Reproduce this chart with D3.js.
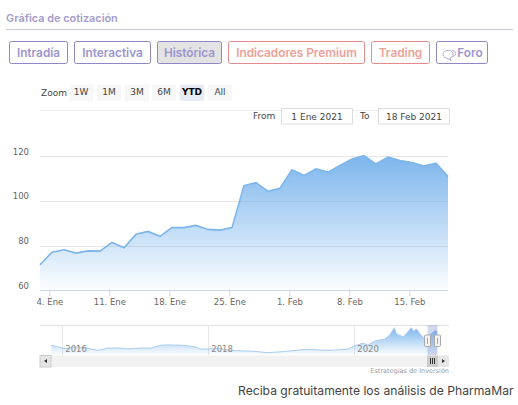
<!DOCTYPE html>
<html lang="es">
    <head>
        <meta charset="utf-8">
        <title>Gráfica de cotización</title>
        <script src="https://cdn.jsdelivr.net/npm/d3@7/dist/d3.min.js"></script>
        <style type="text/css">
            html, body { margin: 0; padding: 0; background: #fff; overflow: hidden; }
            svg { display: block; }
            text { font-family: "DejaVu Sans", sans-serif; }
            .tab { font-family: Inter, sans-serif; font-weight: 600; font-size: 11.8px; }
            .axis text { font-size: 8.5px; fill: #666; }
            .axis path { display: none; }
            .small { font-size: 9px; fill: #444; }
        </style>
    </head>
    <body>
        <script type="text/javascript">

            var w = 518;
            var h = 405;

            // daily closes, 35 trading sessions up to 18 Feb 2021
            var closes = [71.4, 77.0, 78.1, 76.6, 77.6, 77.5, 81.4, 79.0, 85.0, 86.3, 84.1, 88.0,
                88.0, 89.0, 87.2, 86.9, 88.0, 106.8, 108.1, 104.2, 105.6, 113.8, 111.3, 114.3,
                112.8, 115.8, 118.7, 120.2, 116.4, 119.5, 118.0, 117.1, 115.5, 116.8, 110.8];

            var yTicks = [60, 80, 100, 120];
            var xTickLabels = ["4. Ene", "11. Ene", "18. Ene", "25. Ene", "1. Feb", "8. Feb", "15. Feb"];
            var xTickSessions = [0.78, 5.78, 10.78, 15.78, 20.78, 25.78, 30.78];

            // navigator series, whole history
            var navYears = [2015.85, 2015.92, 2016.04, 2016.15, 2016.31, 2016.38, 2016.49, 2016.63, 2016.79,
                2016.90, 2017.06, 2017.22, 2017.34, 2017.45, 2017.68, 2017.84, 2017.88, 2018.02, 2018.16,
                2018.34, 2018.61, 2018.82, 2019.02, 2019.35, 2019.62, 2019.90, 2020.01, 2020.12, 2020.19,
                2020.28, 2020.42, 2020.49, 2020.55, 2020.57, 2020.60, 2020.67, 2020.74, 2020.78, 2020.81,
                2020.85, 2020.90, 2020.97, 2021.04, 2021.11, 2021.135];
            var navCloses = [46, 41, 30, 37, 37, 29, 22, 33, 33, 29, 33, 33, 46, 48, 46, 37, 29, 29, 30,
                21, 18, 11, 16, 27, 22, 27, 44, 56, 48, 66, 76, 97, 130, 105, 97, 86, 113, 130, 113,
                124, 101, 73, 97, 118, 110];
            var navTicks = [2016, 2018, 2020];

            var tabLabels = ["Intradía", "Interactiva", "Histórica", "Indicadores Premium", "Trading", "Foro"];
            var zoomLabels = ["1W", "1M", "3M", "6M", "YTD", "All"];
            var footerText = "Reciba gratuitamente los análisis de PharmaMar";

            var svg = d3.select("body").append("svg")
                .attr("width", w)
                .attr("height", h);

            var defs = svg.append("defs");
            var grad = defs.append("linearGradient")
                .attr("id", "areaFill")
                .attr("x1", 0).attr("y1", 0).attr("x2", 0).attr("y2", 1);
            grad.append("stop").attr("offset", 0).attr("stop-color", "#7cb5ec").attr("stop-opacity", 1);
            grad.append("stop").attr("offset", 1).attr("stop-color", "#7cb5ec").attr("stop-opacity", 0.02);

            // header
            svg.append("text").attr("class", "tab")
                .attr("x", 6).attr("y", 22)
                .style("font-size", "10.9px")
                .attr("fill", "#a49cce")
                .text("Gráfica de cotización");
            svg.append("line")
                .attr("x1", 6).attr("x2", 513).attr("y1", 29.5).attr("y2", 29.5)
                .attr("stroke", "#cbc7de");

            // tab buttons
            var tabLeft = [9.5, 74.5, 157.5, 228.5, 371.5, 436.5];
            var tabRight = [67.5, 150.5, 221.5, 364.5, 429.5, 487.5];
            tabLabels.forEach(function(label, i) {
                var red = label == "Indicadores Premium" || label == "Trading";
                svg.append("rect")
                    .attr("x", tabLeft[i]).attr("y", 41.5)
                    .attr("width", tabRight[i] - tabLeft[i]).attr("height", 22)
                    .attr("rx", 2)
                    .attr("fill", label == "Histórica" ? "#e3e3e3" : "#fff")
                    .attr("stroke", red ? "#e48b8b" : "#8f87c6");
                var cx = (tabLeft[i] + tabRight[i]) / 2 + (label == "Foro" ? 8 : 0);
                svg.append("text").attr("class", "tab")
                    .attr("x", cx).attr("y", 57)
                    .attr("text-anchor", "middle")
                    .attr("fill", red ? "#ee9f98" : "#9c95cf")
                    .text(label);
            });
            // speech bubbles on Foro
            svg.append("path")
                .attr("d", "M445 57.5 a5 4 0 1 1 5 0.5 l1 2.5 l-3 -2 a5.5 4.5 0 0 1 -3 -1 M452.5 50.5 a3 3 0 0 1 0 6")
                .attr("fill", "none")
                .attr("stroke", "#a9a4d2")
                .attr("stroke-width", 0.9);

            // range selector
            svg.append("text").attr("class", "small").attr("x", 41).attr("y", 96).text("Zoom");
            var zoomLeft = [69, 97, 125, 152, 180, 208];
            zoomLabels.forEach(function(label, i) {
                var on = label == "YTD";
                svg.append("rect")
                    .attr("x", zoomLeft[i]).attr("y", 84.5)
                    .attr("width", 24).attr("height", 16.5)
                    .attr("rx", 1)
                    .attr("fill", on ? "#e6ebf5" : "#f7f7f7");
                svg.append("text").attr("class", "small")
                    .attr("x", zoomLeft[i] + 12).attr("y", 95)
                    .attr("text-anchor", "middle")
                    .style("font-weight", on ? "bold" : "normal")
                    .style("fill", on ? "#000" : "#444")
                    .text(label);
            });
            svg.append("line")
                .attr("x1", 40).attr("x2", 448).attr("y1", 110.5).attr("y2", 110.5)
                .attr("stroke", "#eee");

            var fromBox = [[281, "1 Ene 2021"], [378, "18 Feb 2021"]];
            fromBox.forEach(function(d) {
                svg.append("rect")
                    .attr("x", d[0] + 0.5).attr("y", 108.5)
                    .attr("width", 71).attr("height", 15.5)
                    .attr("fill", "#fff")
                    .attr("stroke", "#ddd");
                svg.append("text").attr("class", "small")
                    .attr("x", d[0] + 36).attr("y", 120)
                    .attr("text-anchor", "middle")
                    .text(d[1]);
            });
            svg.append("text").attr("class", "small").attr("x", 253).attr("y", 119).text("From");
            svg.append("text").attr("class", "small").attr("x", 360).attr("y", 119).text("To");

            // main chart
            var xScale = d3.scaleLinear().domain([0, closes.length - 1]).range([40, 448]);
            var yScale = d3.scaleLinear().domain([60, 120]).range([290.3, 156]);

            var yAxis = d3.axisLeft(yScale)
                .tickValues(yTicks)
                .tickSize(0)
                .tickPadding(0);
            var yG = svg.append("g")
                .attr("class", "axis")
                .attr("transform", "translate(29,0)")
                .call(yAxis);
            yG.selectAll("text").attr("dy", "-2px");

            svg.selectAll("line.grid")
                .data(yTicks.slice(1))
                .enter()
                .append("line")
                .attr("class", "grid")
                .attr("x1", 40).attr("x2", 448)
                .attr("y1", function(d) { return Math.round(yScale(d)) + 0.5; })
                .attr("y2", function(d) { return Math.round(yScale(d)) + 0.5; })
                .attr("stroke", "#e6e6e6");

            var area = d3.area()
                .x(function(d, i) { return xScale(i); })
                .y0(yScale(60))
                .y1(function(d) { return yScale(d); });
            var line = d3.line()
                .x(function(d, i) { return xScale(i); })
                .y(function(d) { return yScale(d); });

            svg.append("path").datum(closes)
                .attr("d", area)
                .attr("fill", "url(#areaFill)");
            svg.append("path").datum(closes)
                .attr("d", line)
                .attr("fill", "none")
                .attr("stroke", "#7cb5ec")
                .attr("stroke-width", 1.6);

            svg.append("line")
                .attr("x1", 40).attr("x2", 448).attr("y1", 290.5).attr("y2", 290.5)
                .attr("stroke", "#ccd6eb");

            var xAxis = d3.axisBottom(xScale)
                .tickValues(xTickSessions)
                .tickFormat(function(d, i) { return xTickLabels[i]; })
                .tickSize(6)
                .tickPadding(3);
            var xG = svg.append("g")
                .attr("class", "axis")
                .attr("transform", "translate(0,290)")
                .call(xAxis);
            xG.selectAll("line").attr("stroke", "#ccd6eb");

            // navigator
            var navX = d3.scaleLinear().domain([2016, 2020]).range([62.3, 354.3]);
            var navY = d3.scaleLinear().domain([0, 130]).range([355, 327.7]);

            svg.selectAll("line.navgrid")
                .data(navTicks)
                .enter()
                .append("line")
                .attr("class", "navgrid")
                .attr("x1", function(d) { return Math.round(navX(d)) + 0.5; })
                .attr("x2", function(d) { return Math.round(navX(d)) + 0.5; })
                .attr("y1", 325).attr("y2", 355)
                .attr("stroke", "#e6e6e6");

            var navArea = d3.area()
                .x(function(d, i) { return navX(navYears[i]); })
                .y0(355)
                .y1(function(d) { return navY(d); });
            var navLine = d3.line()
                .x(function(d, i) { return navX(navYears[i]); })
                .y(function(d) { return navY(d); });

            svg.append("path").datum(navCloses)
                .attr("d", navArea)
                .attr("fill", "url(#areaFill)");
            svg.append("path").datum(navCloses)
                .attr("d", navLine)
                .attr("fill", "none")
                .attr("stroke", "#a9cdf1")
                .attr("stroke-width", 1);

            svg.selectAll("text.navlabel")
                .data(navTicks)
                .enter()
                .append("text")
                .attr("class", "navlabel")
                .attr("x", function(d) { return navX(d) + 3; })
                .attr("y", 352)
                .attr("fill", "#888")
                .style("font-size", "8.5px")
                .text(function(d) { return d; });

            svg.append("line")
                .attr("x1", 40).attr("x2", 449).attr("y1", 325.5).attr("y2", 325.5)
                .attr("stroke", "#e0e0e0");

            // selected window in the navigator
            svg.append("rect")
                .attr("x", 427.5).attr("y", 325)
                .attr("width", 10).attr("height", 30)
                .attr("fill", "#6685c2")
                .attr("fill-opacity", 0.3);
            [427.5, 437.5].forEach(function(px) {
                svg.append("rect")
                    .attr("x", px - 3).attr("y", 335)
                    .attr("width", 6).attr("height", 11.5)
                    .attr("rx", 1)
                    .attr("fill", "#f2f2f2")
                    .attr("stroke", "#aaa");
                svg.append("line")
                    .attr("x1", px).attr("x2", px).attr("y1", 338).attr("y2", 344)
                    .attr("stroke", "#aaa");
            });

            // scrollbar
            svg.append("rect").attr("x", 40).attr("y", 355.5).attr("width", 409).attr("height", 11.5).attr("fill", "#f2f2f2");
            svg.append("rect").attr("x", 40).attr("y", 355.5).attr("width", 11).attr("height", 11.5).attr("fill", "#e6e6e6").attr("stroke", "#ccc");
            svg.append("rect").attr("x", 438).attr("y", 355.5).attr("width", 11).attr("height", 11.5).attr("fill", "#e6e6e6");
            svg.append("rect").attr("x", 427).attr("y", 355.5).attr("width", 11).attr("height", 11.5).attr("fill", "#ccc");
            svg.append("path").attr("d", "M47 359 L44 361 L47 363 Z").attr("fill", "#333");
            svg.append("path").attr("d", "M442 359 L445 361 L442 363 Z").attr("fill", "#333");
            [430.5, 432.5, 434.5].forEach(function(px) {
                svg.append("line")
                    .attr("x1", px).attr("x2", px).attr("y1", 358).attr("y2", 364)
                    .attr("stroke", "#333");
            });

            svg.append("text")
                .attr("x", 449).attr("y", 373)
                .attr("text-anchor", "end")
                .attr("fill", "#999")
                .style("font-size", "6.5px")
                .text("Estrategias de Inversión");

            svg.append("text")
                .attr("x", 238).attr("y", 395)
                .attr("fill", "#444")
                .style("font-family", "Inter, sans-serif")
                .style("font-size", "12.15px")
                .text(footerText);

        </script>
    </body>
</html>
